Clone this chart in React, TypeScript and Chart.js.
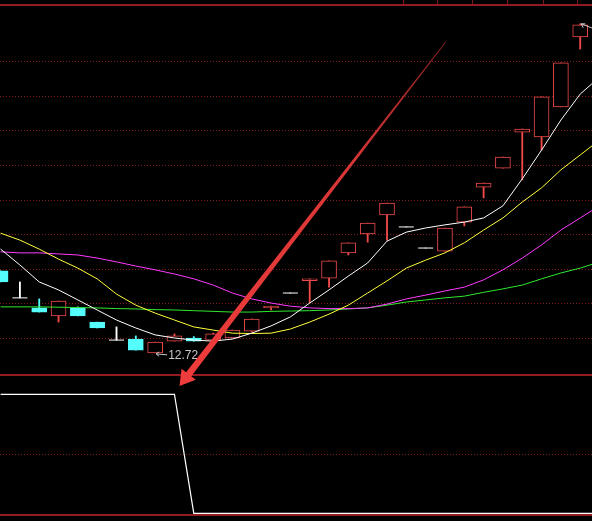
import { useEffect, useRef } from 'react';
import { Chart, registerables } from 'chart.js';

Chart.register(...registerables);

// Daily OHLC, one entry per session
const opens = [15.09, 14.31, 14.02, 13.79, 14.02, 13.61, 13.09, 13.12, 12.72, 13.06, 13.15, 13.09, 13.15, 13.35, 14.02, 14.45, 14.81, 14.88, 15.61, 16.16, 16.71, 16.36, 15.75, 15.66, 16.5, 17.51, 18.06, 19.1, 18.96, 19.83, 21.85];
const highs = [15.09, 14.77, 14.28, 14.22, 14.05, 13.61, 13.47, 13.21, 13.03, 13.27, 13.19, 13.29, 13.38, 13.7, 14.07, 14.45, 14.86, 15.38, 15.9, 16.47, 17.05, 16.36, 15.75, 16.33, 16.94, 17.63, 18.38, 19.19, 20.12, 21.1, 22.23];
const lows = [14.77, 14.31, 13.9, 13.61, 13.79, 13.44, 13.09, 12.8, 12.72, 13.06, 13.06, 13.09, 13.15, 13.32, 13.96, 14.45, 14.16, 14.62, 15.55, 15.92, 15.98, 16.36, 15.75, 15.66, 16.39, 17.2, 18.06, 17.72, 18.58, 19.83, 21.5];
const closes = [14.77, 14.31, 13.9, 14.22, 13.79, 13.44, 13.09, 12.8, 13.03, 13.21, 13.06, 13.27, 13.38, 13.7, 14.07, 14.45, 14.86, 15.38, 15.9, 16.47, 17.05, 16.36, 15.75, 16.33, 16.94, 17.63, 18.38, 19.19, 20.12, 21.1, 22.2];

// Moving averages (one more session than the visible candles)
const ma5 = [15.72, 15.26, 14.77, 14.54, 14.25, 13.96, 13.67, 13.44, 13.24, 13.15, 13.09, 13.06, 13.12, 13.29, 13.5, 13.76, 14.16, 14.54, 14.94, 15.32, 15.95, 16.21, 16.33, 16.42, 16.5, 16.62, 16.97, 17.75, 18.58, 19.45, 20.2, 20.69];
const ma10 = [16.18, 15.98, 15.72, 15.43, 15.17, 14.86, 14.42, 14.1, 13.87, 13.67, 13.47, 13.38, 13.29, 13.28, 13.29, 13.41, 13.61, 13.84, 14.1, 14.45, 14.8, 15.17, 15.4, 15.61, 15.9, 16.27, 16.62, 17.08, 17.49, 18.01, 18.44, 18.87];
const ma20 = [15.64, 15.61, 15.61, 15.58, 15.55, 15.46, 15.35, 15.23, 15.12, 15.0, 14.86, 14.68, 14.45, 14.28, 14.16, 14.07, 14.02, 14.0, 14.0, 14.02, 14.13, 14.28, 14.39, 14.51, 14.62, 14.83, 15.12, 15.46, 15.84, 16.27, 16.62, 16.97];
const ma60 = [14.05, 14.05, 14.05, 14.04, 14.03, 14.02, 14.0, 13.99, 13.97, 13.96, 13.94, 13.92, 13.9, 13.9, 13.92, 13.93, 13.94, 13.96, 13.99, 14.02, 14.1, 14.19, 14.25, 14.31, 14.36, 14.47, 14.57, 14.68, 14.86, 15.03, 15.17, 15.35];

// Lower-panel on/off signal
const signal = [1, 1, 1, 1, 1, 1, 1, 1, 1, 1, 0, 0, 0, 0, 0, 0, 0, 0, 0, 0, 0, 0, 0, 0, 0, 0, 0, 0, 0, 0, 0, 0];

// Price grid levels and header tick positions (session index)
const gridPrices = [13.15, 14.15, 15.15, 16.15, 17.15, 18.15, 19.15, 20.15, 21.15];
const headerTicks = [20.83, 22.59, 24.4, 26.21, 28.08, 29.84];

// Lower panel levels
const subTop = 1.162;
const subMid = 0.5;
const subBottom = -0.014;

// Pointer annotation: tail and tip as (session, price)
const pointerTail = { x: 23.03, y: 21.7 };
const pointerTip = { x: 9.26, y: 11.76 };

const UP = '#ee4a4a';
const DOWN = '#54fcfc';
const FLAT = '#ffffff';

const colorOf = (i: number) => (closes[i] > opens[i] ? UP : closes[i] < opens[i] ? DOWN : FLAT);

export default function App() {
  const ref = useRef<HTMLCanvasElement>(null);

  useEffect(() => {
    document.body.style.margin = '0';
    document.body.style.background = '#000';
    const canvas = ref.current;
    if (!canvas) return;

    const idx = opens.map((_, i) => i);
    const bodyIdx = idx.filter((i) => opens[i] !== closes[i]);
    const dojiIdx = idx.filter((i) => opens[i] === closes[i]);
    const series = (arr: number[]) => arr.map((v, i) => ({ x: i, y: v }));

    const lowIdx = lows.indexOf(Math.min(...lows));
    const highIdx = highs.indexOf(Math.max(...highs));

    const panelPlugin = {
      id: 'panels',
      beforeDatasetsDraw(chart: any) {
        const { ctx, chartArea, scales } = chart;
        const y = scales.y;
        const y2 = scales.y2;
        const x = scales.x;
        ctx.save();
        // dotted price grid
        ctx.strokeStyle = 'rgba(150,32,32,0.85)';
        ctx.lineWidth = 1;
        ctx.setLineDash([1, 2]);
        const dotted = (py: number) => {
          const yy = Math.round(py) + 0.5;
          ctx.beginPath();
          ctx.moveTo(chartArea.left, yy);
          ctx.lineTo(chartArea.right, yy);
          ctx.stroke();
        };
        gridPrices.forEach((p) => dotted(y.getPixelForValue(p)));
        dotted(y2.getPixelForValue(subMid));
        ctx.setLineDash([]);
        // solid panel borders
        ctx.strokeStyle = '#941a22';
        ctx.lineWidth = 2;
        const solid = (py: number) => {
          const yy = Math.round(py);
          ctx.beginPath();
          ctx.moveTo(0, yy);
          ctx.lineTo(chart.width, yy);
          ctx.stroke();
        };
        solid(chartArea.top + 1);
        solid(y2.getPixelForValue(subTop));
        solid(y2.getPixelForValue(subBottom));
        // header ticks
        ctx.strokeStyle = 'rgba(150,30,40,0.8)';
        ctx.lineWidth = 1;
        headerTicks.forEach((t) => {
          const xx = Math.round(x.getPixelForValue(t)) + 0.5;
          ctx.beginPath();
          ctx.moveTo(xx, 0);
          ctx.lineTo(xx, chartArea.top);
          ctx.stroke();
        });
        ctx.restore();
      },
      afterDatasetsDraw(chart: any) {
        const { ctx, scales } = chart;
        const x = scales.x;
        const y = scales.y;
        ctx.save();
        // lowest-price marker
        const lx = x.getPixelForValue(lowIdx);
        const ly = y.getPixelForValue(lows[lowIdx]);
        ctx.strokeStyle = '#c8c8c8';
        ctx.lineWidth = 1;
        ctx.beginPath();
        ctx.moveTo(lx + 1, ly + 1);
        ctx.lineTo(lx + 12, ly + 2);
        ctx.moveTo(lx + 1, ly + 1);
        ctx.lineTo(lx + 4, ly - 1);
        ctx.moveTo(lx + 1, ly + 1);
        ctx.lineTo(lx + 4, ly + 3.5);
        ctx.stroke();
        ctx.fillStyle = '#c8c8c8';
        ctx.font = '12px "Liberation Sans", Arial, sans-serif';
        ctx.textBaseline = 'alphabetic';
        ctx.fillText(lows[lowIdx].toFixed(2), lx + 13, ly + 6);
        // highest-price marker
        const hx = x.getPixelForValue(highIdx);
        const hy = y.getPixelForValue(highs[highIdx]);
        ctx.beginPath();
        ctx.moveTo(hx + 1, hy);
        ctx.lineTo(hx + 14, hy + 5);
        ctx.moveTo(hx + 1, hy);
        ctx.lineTo(hx + 3, hy + 4);
        ctx.moveTo(hx + 1, hy);
        ctx.lineTo(hx + 5, hy);
        ctx.stroke();

        // red pointer
        const tx = x.getPixelForValue(pointerTail.x);
        const ty = y.getPixelForValue(pointerTail.y);
        const px = x.getPixelForValue(pointerTip.x);
        const py = y.getPixelForValue(pointerTip.y);
        const len = Math.hypot(tx - px, ty - py);
        const ux = (tx - px) / len;
        const uy = (ty - py) / len;
        const nx = -uy;
        const ny = ux;
        const headLen = 15;
        const headHalf = 9;
        const bx = px + ux * headLen;
        const by = py + uy * headLen;
        const tailW = 0.4;
        const baseW = 3.3;
        const grad = ctx.createLinearGradient(tx, ty, px, py);
        grad.addColorStop(0, 'rgba(170,40,40,0.8)');
        grad.addColorStop(0.35, '#d83636');
        grad.addColorStop(1, '#f03c3c');
        ctx.fillStyle = grad;
        ctx.beginPath();
        ctx.moveTo(tx + nx * tailW, ty + ny * tailW);
        ctx.lineTo(bx + nx * baseW, by + ny * baseW);
        ctx.lineTo(bx + nx * headHalf, by + ny * headHalf);
        ctx.lineTo(px, py);
        ctx.lineTo(bx - nx * headHalf, by - ny * headHalf);
        ctx.lineTo(bx - nx * baseW, by - ny * baseW);
        ctx.lineTo(tx - nx * tailW, ty - ny * tailW);
        ctx.closePath();
        ctx.fill();
        ctx.restore();
      },
    };

    const chart = new Chart(canvas, {
      type: 'bar',
      data: {
        datasets: [
          {
            type: 'line',
            label: 'MA5',
            data: series(ma5),
            borderColor: '#ffffff',
            borderWidth: 1,
            pointRadius: 0,
            tension: 0,
            yAxisID: 'y',
            order: 1,
          },
          {
            type: 'line',
            label: 'MA10',
            data: series(ma10),
            borderColor: '#ffff3c',
            borderWidth: 1,
            pointRadius: 0,
            tension: 0,
            yAxisID: 'y',
            order: 2,
          },
          {
            type: 'line',
            label: 'MA20',
            data: series(ma20),
            borderColor: '#ff3cff',
            borderWidth: 1,
            pointRadius: 0,
            tension: 0,
            yAxisID: 'y',
            order: 3,
          },
          {
            type: 'line',
            label: 'MA60',
            data: series(ma60),
            borderColor: '#30e830',
            borderWidth: 1,
            pointRadius: 0,
            tension: 0,
            yAxisID: 'y',
            order: 4,
          },
          {
            type: 'line',
            label: 'signal',
            data: series(signal),
            borderColor: '#ffffff',
            borderWidth: 1.2,
            pointRadius: 0,
            tension: 0,
            yAxisID: 'y2',
            order: 0,
          },
          {
            type: 'line',
            label: 'flat',
            data: dojiIdx.map((i) => ({ x: i, y: opens[i] })),
            showLine: false,
            pointStyle: 'line',
            pointRadius: 7.5,
            pointBorderColor: FLAT,
            pointBorderWidth: 1,
            yAxisID: 'y',
            order: 5,
          },
          {
            type: 'bar',
            label: 'body',
            data: bodyIdx.map((i) => ({ x: i, y: [opens[i], closes[i]] })) as any,
            backgroundColor: bodyIdx.map((i) => (colorOf(i) === DOWN ? DOWN : '#000000')),
            borderColor: bodyIdx.map((i) => colorOf(i)),
            borderWidth: 1,
            borderSkipped: false,
            barThickness: 15,
            grouped: false,
            yAxisID: 'y',
            order: 6,
          },
          {
            type: 'bar',
            label: 'wick',
            data: idx.map((i) => ({ x: i, y: [lows[i], highs[i]] })) as any,
            backgroundColor: idx.map((i) => colorOf(i)),
            borderWidth: 0,
            barThickness: 1.2,
            grouped: false,
            yAxisID: 'y',
            order: 7,
          },
        ] as any,
      },
      options: {
        responsive: false,
        animation: false,
        devicePixelRatio: 1,
        events: [],
        layout: { autoPadding: false, padding: { left: 0, right: 0, top: 4, bottom: 5 } },
        plugins: { legend: { display: false }, tooltip: { enabled: false } },
        scales: {
          x: { type: 'linear', min: -0.03, max: 30.61, display: false, offset: false },
          y: { type: 'linear', min: 8.006, max: 22.803, display: false },
          y2: { type: 'linear', min: -0.0227, max: 4.28, display: false },
        },
      },
      plugins: [panelPlugin],
    });

    return () => chart.destroy();
  }, []);

  return (
    <div style={{ width: 592, height: 521, background: '#000' }}>
      <canvas ref={ref} width={592} height={521} style={{ display: 'block' }} />
    </div>
  );
}
